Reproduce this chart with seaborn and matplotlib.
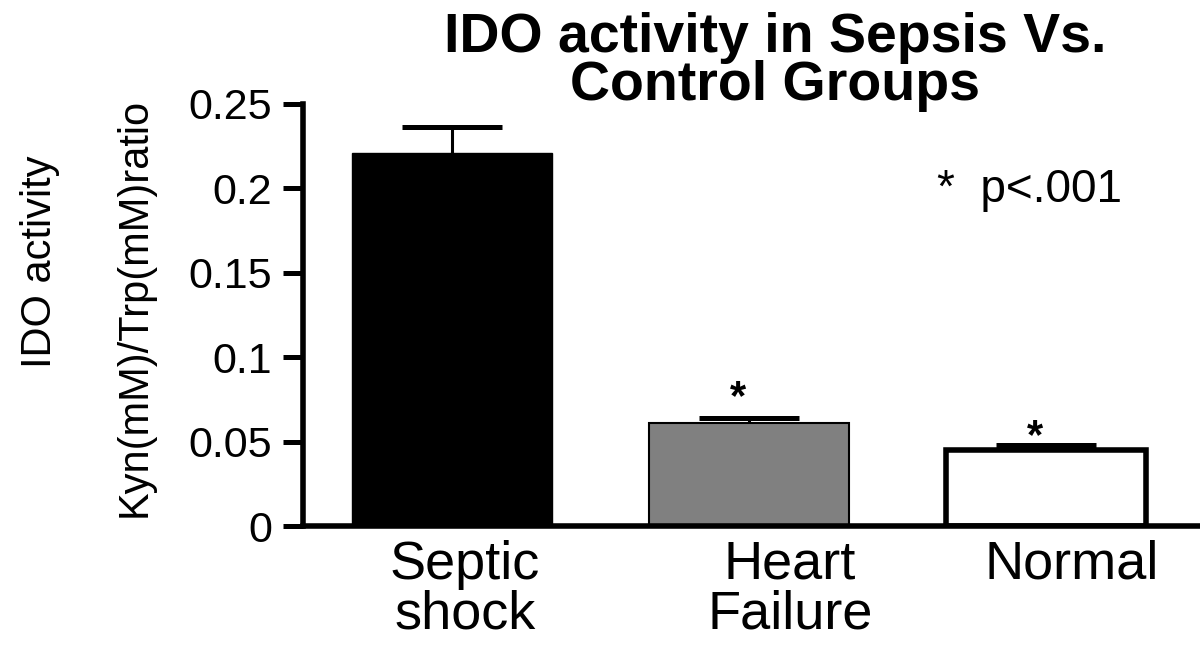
import pandas as pd
import matplotlib
matplotlib.use("Agg")
import matplotlib.pyplot as plt
import seaborn as sns

groups = ["Septic\nshock", "Heart\nFailure", "Normal"]
mean_ratio = [0.221, 0.061, 0.0453]
sem_ratio = [0.0154, 0.003, 0.0027]
bar_colors = ["#000000", "#808080", "#ffffff"]
sig_groups = [1, 2]
sig_heights = [0.076, 0.0525]

df = pd.DataFrame({"group": groups, "ratio": mean_ratio})

sns.set_style("ticks")
plt.rcParams["font.family"] = ["Liberation Sans", "DejaVu Sans"]
plt.rcParams.update({"text.color": "black", "axes.edgecolor": "black",
                     "xtick.color": "black", "ytick.color": "black",
                     "axes.labelcolor": "black"})

fig = plt.figure(figsize=(12, 6.49), dpi=100)
ax = fig.add_axes([0.2525, 0.1895, 0.7475, 0.6503])

sns.barplot(data=df, x="group", y="ratio", hue="group", palette=bar_colors,
            errorbar=None, width=0.673, legend=False, ax=ax,
            edgecolor="black", saturation=1, zorder=2)

# bar outlines differ per group
for patch, lw in zip(ax.patches, [1.0, 1.5, 4.0]):
    patch.set_linewidth(lw)
    patch.set_edgecolor("black")

# upper error bars only (SEM), drawn behind the bars
eb = ax.errorbar(range(len(groups)), mean_ratio, yerr=[[0] * 3, sem_ratio],
                 fmt="none", ecolor="black", elinewidth=2.2, capsize=36,
                 capthick=3.6, zorder=1)
eb[1][0].set_visible(False)  # hide the lower caps

for g, h in zip(sig_groups, sig_heights):
    ax.text(g - 0.04, h, "*", ha="center", va="center", fontsize=30,
            fontweight="bold")

ax.text(1.631, 0.199, "*  p<.001", ha="left", va="center", fontsize=33)

ax.set_ylim(0, 0.25)
ax.set_xlim(-0.503, 2.517)
ax.set_yticks([0, 0.05, 0.1, 0.15, 0.2, 0.25])
ax.set_yticklabels(["0", "0.05", "0.1", "0.15", "0.2", "0.25"])
ax.set_xticks([0.042, 1.136, 2.086])
ax.set_xticklabels(groups)
ax.tick_params(axis="y", length=14.4, width=3.6, labelsize=31, pad=8)
ax.tick_params(axis="x", length=0, labelsize=39, pad=10)
for lab in ax.get_xticklabels():
    lab.set_linespacing(1.0)
ax.set_xlabel("")
ax.set_ylabel("")

sns.despine(ax=ax)
for side in ["left", "bottom"]:
    ax.spines[side].set_linewidth(4)

fig.text(135 / 1200, 1 - 307 / 649, "Kyn(mM)/Trp(mM)ratio", rotation=90,
         ha="center", va="center", fontsize=30)
fig.text(40 / 1200, 1 - 262 / 649, "IDO activity", rotation=90,
         ha="center", va="center", fontsize=30)

fig.suptitle("IDO activity in Sepsis Vs.\nControl Groups", x=0.646,
             y=1 - 12 / 649, va="top", fontsize=40, fontweight="bold",
             linespacing=0.9)

fig.savefig("out.png", dpi=100)
